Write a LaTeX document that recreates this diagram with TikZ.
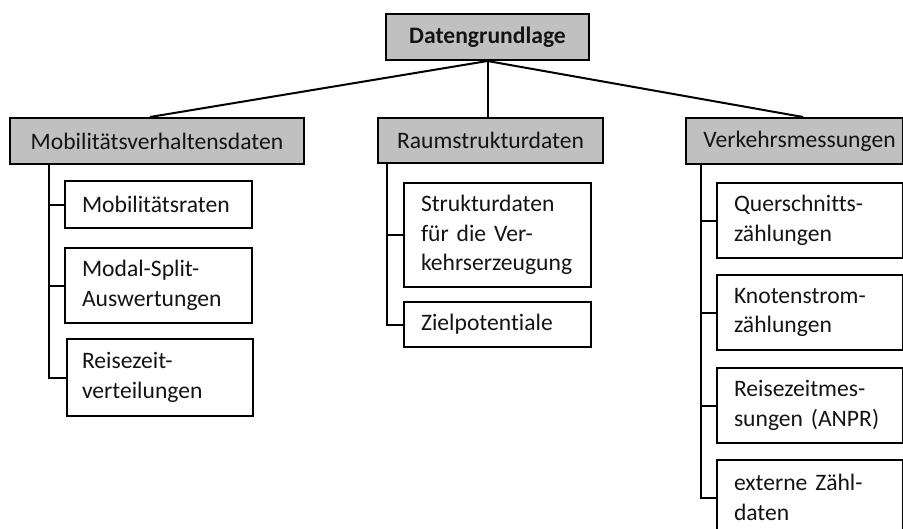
\documentclass[tikz,border=0pt]{standalone}
\usepackage{fontspec}
\setmainfont[Ligatures={NoCommon}]{Carlito}
\definecolor{headgray}{RGB}{192,192,192}
\definecolor{inkcol}{RGB}{20,20,20}
\begin{document}
\begin{tikzpicture}[x=1pt,y=-1pt,
  every node/.style={font=\fontsize{23.6}{29.5}\selectfont, text=inkcol},
  box/.style={draw=black, line width=2pt, anchor=north west, inner ysep=0pt},
  headbox/.style={box, fill=headgray, align=center, inner xsep=0pt},
  leafbox/.style={box, fill=white, align=left, inner xsep=17pt,
    minimum width=187pt, text width=153pt},
  link/.style={black, line width=2pt}]
\useasboundingbox (0,0) rectangle (903,528);
\clip (0,0) rectangle (903,528);

% top level
\node[headbox, minimum width=203pt, minimum height=46pt] (top) at (385,13) {\bfseries Datengrundlage};

% second level
\node[headbox, minimum width=294pt, minimum height=46pt] (mv) at (9,117) {Mobilitätsverhaltensdaten};
\node[headbox, minimum width=225pt, minimum height=45pt] (rs) at (377,117) {Raumstrukturdaten};
\node[headbox, minimum width=217pt, minimum height=46pt] (vm) at (685,117) {\hspace*{10pt}Verkehrsmessungen};

% leaves: Mobilitätsverhaltensdaten
\node[leafbox, minimum height=47pt] (mr) at (64,180) {Mobilitätsraten};
\node[leafbox, minimum height=75pt] (ms) at (64,247) {Modal-Split-\\Auswertungen};
\node[leafbox, minimum height=77pt, inner xsep=15pt, minimum width=186pt, text width=156pt] (rz) at (66,338) {Reisezeit-\\verteilungen};

% leaves: Raumstrukturdaten
\node[leafbox, minimum height=104pt] (sd) at (403,182) {Strukturdaten\\für die Ver-\\kehrserzeugung};
\node[leafbox, minimum height=45pt] (zp) at (403,301) {Zielpotentiale};

% leaves: Verkehrsmessungen
\node[leafbox, minimum height=75pt, minimum width=186pt, text width=152pt] (qz) at (716,182) {Querschnitts-\\zählungen};
\node[leafbox, minimum height=75pt, minimum width=186pt, text width=152pt] (kz) at (716,274) {Knotenstrom-\\zählungen};
\node[leafbox, minimum height=75pt, minimum width=186pt, text width=152pt] (rm) at (716,367) {Reisezeitmes-\\sungen (ANPR)};
\node[leafbox, minimum height=75pt, minimum width=186pt, text width=152pt] (ez) at (716,459) {externe Zähl-\\daten};

% connectors from the root
\draw[link] (top.south) -- ([xshift=141pt]mv.north west);
\draw[link] (top.south) -- (top.south |- rs.north);
\draw[link] (top.south) -- ([xshift=118pt]vm.north west);

% trunks with ticks
\coordinate (mvt) at ([xshift=40pt]mv.south west);
\draw[link] (mvt) |- (rz.west);
\draw[link] (mr.west) -- (mr.west -| mvt);
\draw[link] (ms.west) -- (ms.west -| mvt);

\coordinate (rst) at ([xshift=10pt]rs.south west);
\draw[link] (rst) |- (zp.west);
\draw[link] (sd.west) -- (sd.west -| rst);

\coordinate (vmt) at ([xshift=16pt]vm.south west);
\draw[link] (vmt) |- (ez.west);
\draw[link] (qz.west) -- (qz.west -| vmt);
\draw[link] (kz.west) -- (kz.west -| vmt);
\draw[link] (rm.west) -- (rm.west -| vmt);
\end{tikzpicture}
\end{document}
